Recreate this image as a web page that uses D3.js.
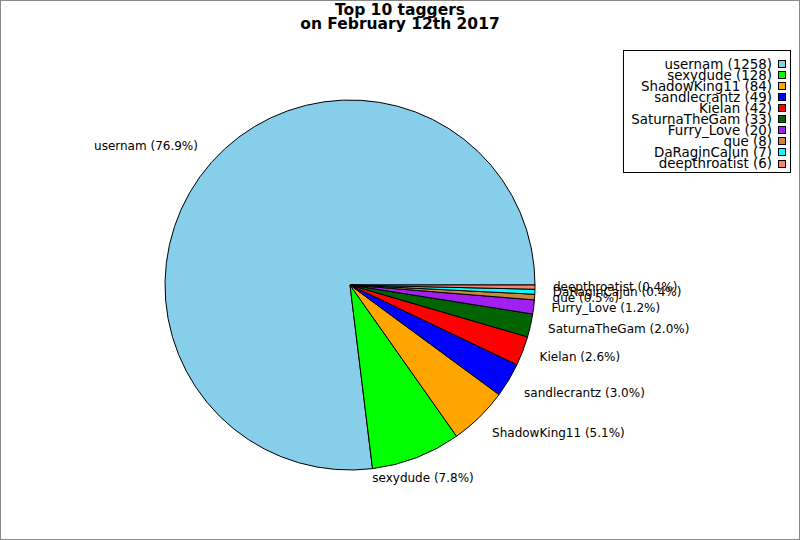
<!DOCTYPE html>
<html>
<head>
<meta charset="utf-8">
<script src="https://cdn.jsdelivr.net/npm/d3@7"></script>
<style>
  html, body { margin: 0; padding: 0; background: #fff; }
  svg { display: block; }
  text { font-family: "DejaVu Sans", sans-serif; fill: #000; }
</style>
</head>
<body>
<svg id="chart" width="800" height="540"></svg>
<script>
const titleLines = ["Top 10 taggers", "on February 12th 2017"];
const names = ["usernam", "sexydude", "ShadowKing11", "sandlecrantz", "Kielan",
               "SaturnaTheGam", "Furry_Love", "que", "DaRaginCajun", "deepthroatist"];
const counts = [1258, 128, 84, 49, 42, 33, 20, 8, 7, 6];
const colors = ["#87CEEB", "#00FF00", "#FFA500", "#0000FF", "#FF0000",
                "#006400", "#A020F0", "#CD853F", "#00FFFF", "#FA8072"];

const W = 800, H = 540;
const cx = 350, cy = 285, radius = 185, labelR = 203;
const svg = d3.select("#chart");

// frame
svg.append("rect").attr("x", 0.5).attr("y", 0.5).attr("width", W - 1).attr("height", H - 1)
  .attr("fill", "#fff").attr("stroke", "#888").attr("stroke-width", 1);

// title
svg.append("text").attr("x", 400).attr("y", 15).attr("text-anchor", "middle")
  .attr("font-size", "15.5px").attr("font-weight", "bold").text(titleLines[0]);
svg.append("text").attr("x", 400).attr("y", 28.5).attr("text-anchor", "middle")
  .attr("font-size", "15.5px").attr("font-weight", "bold").text(titleLines[1]);

const data = names.map((n, i) => ({ name: n, value: counts[i], color: colors[i] }));
const total = d3.sum(counts);

// counter-clockwise from 3 o'clock
const pie = d3.pie().value(d => d.value).sort(null)
  .startAngle(Math.PI / 2).endAngle(Math.PI / 2 - 2 * Math.PI);
const arcs = pie(data);
const arc = d3.arc().innerRadius(0).outerRadius(radius);

const g = svg.append("g").attr("transform", `translate(${cx},${cy})`);
g.selectAll("path.slice").data(arcs).join("path")
  .attr("class", "slice")
  .attr("d", arc)
  .attr("fill", d => d.data.color)
  .attr("stroke", "#000").attr("stroke-width", 1).attr("stroke-linejoin", "round");

// labels
const fmt = d3.format(".1f");
arcs.forEach(d => {
  const a = (d.startAngle + d.endAngle) / 2;
  const cosS = Math.sin(a), sinS = Math.cos(a);
  const x = cx + labelR * cosS, y = cy - labelR * sinS;
  let anchor = "middle";
  if (Math.abs(cosS) >= 0.5) anchor = cosS > 0 ? "start" : "end";
  let dy;
  if (Math.abs(sinS) < 0.5) dy = 3.3;
  else dy = sinS > 0 ? 0 : 7.3;
  svg.append("text").attr("x", x).attr("y", y + dy)
    .attr("text-anchor", anchor).attr("font-size", "12px")
    .text(`${d.data.name} (${fmt(d.data.value / total * 100)}%)`);
});

// legend
const leg = svg.append("g");
leg.append("rect").attr("x", 623.5).attr("y", 50.5).attr("width", 167).attr("height", 122)
  .attr("fill", "#fff").attr("stroke", "#000").attr("stroke-width", 1);
const rowY = d3.scaleLinear().domain([0, names.length - 1]).range([63.8, 163.5]);
data.forEach((d, i) => {
  const yc = rowY(i);
  leg.append("text").attr("x", 772).attr("y", yc + 4.8).attr("text-anchor", "end")
    .attr("font-size", "13.4px").text(`${d.name} (${d.value})`);
  leg.append("rect").attr("x", 778.5).attr("y", Math.round(yc) - 3.5).attr("width", 7).attr("height", 7)
    .attr("fill", d.color).attr("stroke", "#000").attr("stroke-width", 1);
});
</script>
</body>
</html>
